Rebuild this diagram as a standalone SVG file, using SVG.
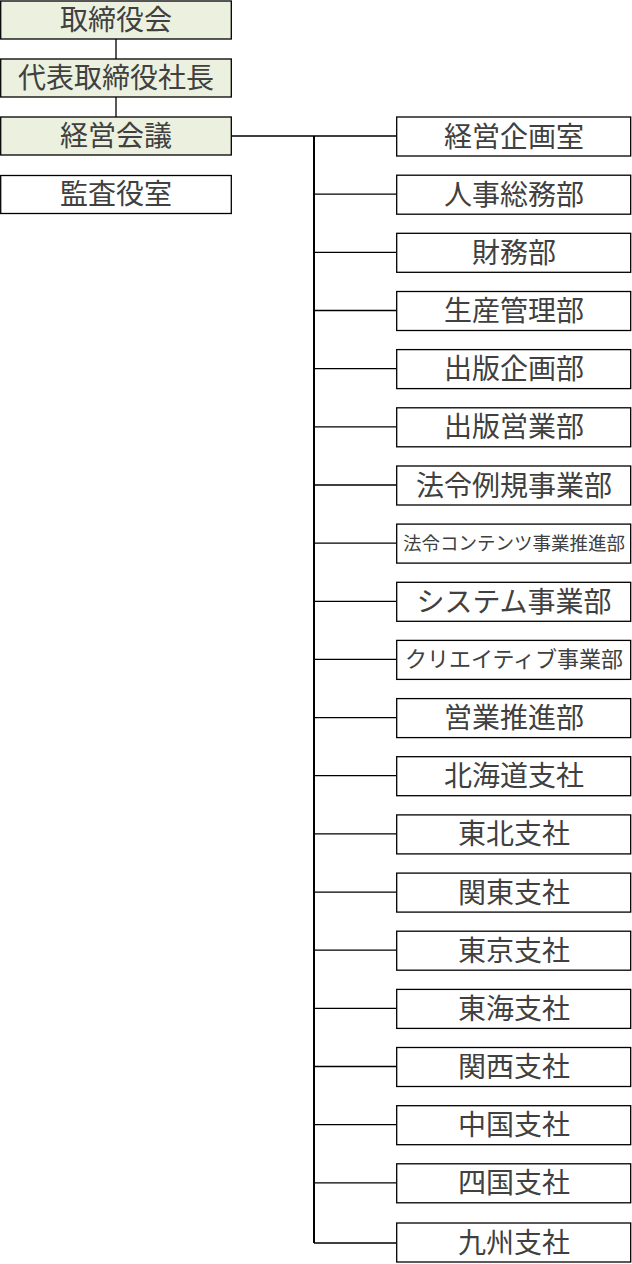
<svg xmlns="http://www.w3.org/2000/svg" width="632" height="1264" viewBox="0 0 632 1264">
<style>
.b{fill:#fff;stroke:#000;stroke-width:1.3}
.g{fill:#EBF1DE;stroke:#000;stroke-width:1.3}
text{font-family:"Noto Sans CJK JP","Noto Sans CJK SC",sans-serif;fill:#404040;font-size:28px;text-anchor:middle}
.s{font-size:18.5px}
.m{font-size:22px}
.c{fill:none;stroke:#000;stroke-width:1.3}
</style>
<rect width="632" height="1264" fill="#fff"/>
<g id="connectors">
<path class="c" d="M116 39V59M116 97V117M231 136H314M396 136H314"/>
<path class="c" d="M314 136V1243" style="stroke-width:2"/>
<path class="c" d="M314 194.2H396M314 252.3H396M314 310.5H396M314 368.6H396M314 426.8H396M314 485H396M314 543.1H396M314 601.3H396M314 659.4H396M314 717.6H396M314 775.7H396M314 833.9H396M314 892.1H396M314 950.2H396M314 1008.4H396M314 1066.5H396M314 1124.7H396M314 1182.8H396M314 1243H396"/>
</g>
<g id="n_torishimariyakukai"><rect class="g" x="0.7" y="1" width="230.6" height="38"/><text x="116" y="29.5">取締役会</text></g>
<g id="n_shacho"><rect class="g" x="0.7" y="59" width="230.6" height="38"/><text x="116" y="87.5">代表取締役社長</text></g>
<g id="n_keiei"><rect class="g" x="0.7" y="117" width="230.6" height="38"/><text x="116" y="145.5">経営会議</text></g>
<g id="n_kansa"><rect class="b" x="0.7" y="175.5" width="230.6" height="38"/><text x="116" y="204">監査役室</text></g>
<g id="r1"><rect class="b" x="396.7" y="117" width="234" height="39"/><text x="514" y="146.5">経営企画室</text></g>
<g id="r2"><rect class="b" x="396.7" y="175.2" width="234" height="39"/><text x="514" y="204.7">人事総務部</text></g>
<g id="r3"><rect class="b" x="396.7" y="233.3" width="234" height="39"/><text x="514" y="262.8">財務部</text></g>
<g id="r4"><rect class="b" x="396.7" y="291.5" width="234" height="39"/><text x="514" y="321">生産管理部</text></g>
<g id="r5"><rect class="b" x="396.7" y="349.6" width="234" height="39"/><text x="514" y="379.1">出版企画部</text></g>
<g id="r6"><rect class="b" x="396.7" y="407.8" width="234" height="39"/><text x="514" y="437.3">出版営業部</text></g>
<g id="r7"><rect class="b" x="396.7" y="466" width="234" height="39"/><text x="514" y="495.5">法令例規事業部</text></g>
<g id="r8"><rect class="b" x="396.7" y="524.1" width="234" height="39"/><text class="s" x="514" y="550">法令コンテンツ事業推進部</text></g>
<g id="r9"><rect class="b" x="396.7" y="582.3" width="234" height="39"/><text x="514" y="611.8">システム事業部</text></g>
<g id="r10"><rect class="b" x="396.7" y="640.4" width="234" height="39"/><text class="m" x="514" y="667.4">クリエイティブ事業部</text></g>
<g id="r11"><rect class="b" x="396.7" y="698.6" width="234" height="39"/><text x="514" y="728.1">営業推進部</text></g>
<g id="r12"><rect class="b" x="396.7" y="756.7" width="234" height="39"/><text x="514" y="786.2">北海道支社</text></g>
<g id="r13"><rect class="b" x="396.7" y="814.9" width="234" height="39"/><text x="514" y="844.4">東北支社</text></g>
<g id="r14"><rect class="b" x="396.7" y="873.1" width="234" height="39"/><text x="514" y="902.6">関東支社</text></g>
<g id="r15"><rect class="b" x="396.7" y="931.2" width="234" height="39"/><text x="514" y="960.7">東京支社</text></g>
<g id="r16"><rect class="b" x="396.7" y="989.4" width="234" height="39"/><text x="514" y="1018.9">東海支社</text></g>
<g id="r17"><rect class="b" x="396.7" y="1047.5" width="234" height="39"/><text x="514" y="1077">関西支社</text></g>
<g id="r18"><rect class="b" x="396.7" y="1105.7" width="234" height="39"/><text x="514" y="1135.2">中国支社</text></g>
<g id="r19"><rect class="b" x="396.7" y="1163.8" width="234" height="39"/><text x="514" y="1193.3">四国支社</text></g>
<g id="r20"><rect class="b" x="396.7" y="1223" width="234" height="39"/><text x="514" y="1252.5">九州支社</text></g>
</svg>
